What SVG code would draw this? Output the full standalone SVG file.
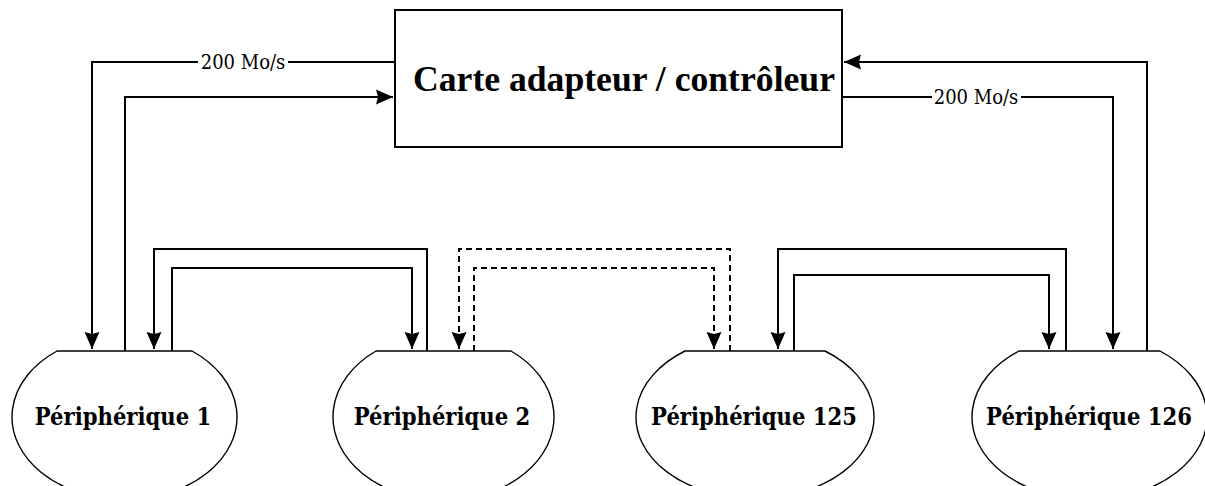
<svg xmlns="http://www.w3.org/2000/svg" width="1205" height="486" viewBox="0 0 1205 486">
<style>
.bg{fill:#fff}
.box{fill:#fff;stroke:#000;stroke-width:2}
.dev{fill:#fff;stroke:#000;stroke-width:1.4}
.line{fill:none;stroke:#000;stroke-width:2}
.dash{stroke-dasharray:6 4}
.title{font-family:"Liberation Serif","Times New Roman",serif;font-weight:bold;font-size:35px;fill:#000}
.lbl{font-family:"DejaVu Serif Condensed","DejaVu Serif",serif;font-weight:bold;font-size:23.5px;fill:#000;text-anchor:middle}
.rate{font-family:"DejaVu Serif Condensed","DejaVu Serif",serif;font-size:20px;fill:#000;text-anchor:middle}
</style>
<defs>
<marker id="arr" markerUnits="userSpaceOnUse" markerWidth="20" markerHeight="20" viewBox="-18 -9 20 18" refX="0" refY="0" orient="auto">
<path d="M0,0 L-17,-7.5 L-15,0 L-17,7.5 Z" fill="#000"/>
</marker>
</defs>
<rect class="bg" x="0" y="0" width="1205" height="486"/>

<g id="connectors">
<path class="line" d="M395,62 H92 V349" marker-end="url(#arr)"/>
<path class="line" d="M125,351 V97 H393" marker-end="url(#arr)"/>
<path class="line" d="M842,97 H1113 V349" marker-end="url(#arr)"/>
<path class="line" d="M1147,351 V62 H844" marker-end="url(#arr)"/>
<path class="line" d="M427,351 V249 H154 V349" marker-end="url(#arr)"/>
<path class="line" d="M172,351 V268 H412 V349" marker-end="url(#arr)"/>
<path class="line dash" d="M730,351 V249 H459 V349" marker-end="url(#arr)"/>
<path class="line dash" d="M474,351 V268 H714 V349" marker-end="url(#arr)"/>
<path class="line" d="M1066,351 V249 H778 V349" marker-end="url(#arr)"/>
<path class="line" d="M794,351 V275 H1049 V349" marker-end="url(#arr)"/>
<rect class="bg" x="198" y="51" width="90" height="22"/>
<text class="rate" x="243" y="69">200 Mo/s</text>
<rect class="bg" x="932" y="86" width="89" height="22"/>
<text class="rate" x="976" y="104">200 Mo/s</text>
</g>

<g id="controleur">
<rect class="box" x="395" y="10" width="447" height="137"/>
<text class="title" x="413" y="91" textLength="422" lengthAdjust="spacingAndGlyphs">Carte adapteur / contrôleur</text>
</g>

<g id="peripherique1">
<path class="dev" d="M57,351 L192,351 A112.5,82.5 0 1 1 57,351 Z"/>
<text class="lbl" x="123" y="425">Périphérique 1</text>
</g>
<g id="peripherique2">
<path class="dev" d="M376,351 L511,351 A110.5,83.3 0 1 1 376,351 Z"/>
<text class="lbl" x="442" y="425">Périphérique 2</text>
</g>
<g id="peripherique125">
<path class="dev" d="M685,351 L825,351 A119,81.6 0 1 1 685,351 Z"/>
<text class="lbl" x="754" y="425">Périphérique 125</text>
</g>
<g id="peripherique126">
<path class="dev" d="M1019,351 L1160,351 A117.5,82.5 0 1 1 1019,351 Z"/>
<text class="lbl" x="1089" y="425">Périphérique 126</text>
</g>
</svg>
